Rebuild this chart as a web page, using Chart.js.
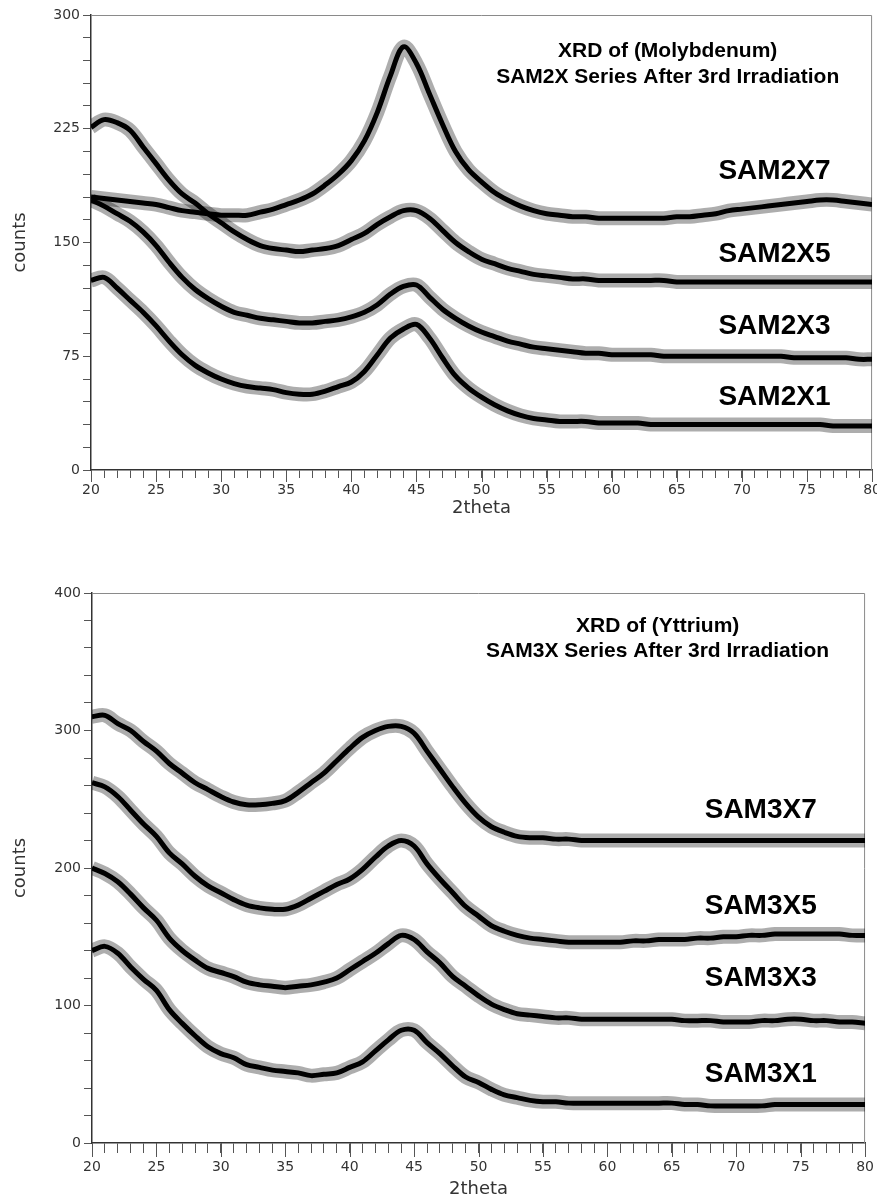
<!DOCTYPE html>
<html>
<head>
<meta charset="utf-8">
<script src="https://cdn.jsdelivr.net/npm/chart.js@4.4.1/dist/chart.umd.min.js"></script>
<style>
  html, body { margin: 0; padding: 0; background: #fff; overflow: hidden; }
  .box { position: absolute; left: 0; }
  #topBox { top: 0; width: 885px; height: 525px; }
  #bottomBox { top: 560px; width: 880px; height: 640px; }
</style>
</head>
<body>
<div class="box" id="topBox"><canvas id="moChart"></canvas></div>
<div class="box" id="bottomBox"><canvas id="yChart"></canvas></div>
<script>
// 2theta positions (degrees), one reading per degree
const twoTheta = [20,21,22,23,24,25,26,27,28,29,30,31,32,33,34,35,36,37,38,39,40,
  41,42,43,44,45,46,47,48,49,50,51,52,53,54,55,56,57,58,59,60,
  61,62,63,64,65,66,67,68,69,70,71,72,73,74,75,76,77,78,79,80];

// Molybdenum, SAM2X series (counts)
const sam2x7 = [180,179,178,177,176,175,173,171,170,169,168,168,168,170,172,175,178,182,188,195,204,
  217,236,260,279,268,248,228,210,198,190,183,178,174,171,169,168,167,167,166,166,
  166,166,166,166,167,167,168,169,171,172,173,174,175,176,177,178,178,177,176,175];
const sam2x5 = [226,231,229,224,213,202,191,182,176,169,163,157,152,148,146,145,144,145,146,148,152,
  156,162,167,171,171,166,158,150,144,139,136,133,131,129,128,127,126,126,125,125,
  125,125,125,125,124,124,124,124,124,124,124,124,124,124,124,124,124,124,124,124];
const sam2x3 = [178,174,169,164,157,148,137,127,119,113,108,104,102,100,99,98,97,97,98,99,101,
  104,109,116,121,122,114,106,100,95,91,88,85,83,81,80,79,78,77,77,76,
  76,76,76,75,75,75,75,75,75,75,75,75,75,74,74,74,74,74,73,73];
const sam2x1 = [125,127,120,112,104,95,85,76,69,64,60,57,55,54,53,51,50,50,52,55,58,
  65,76,87,93,96,87,74,62,54,48,43,39,36,34,33,32,32,32,31,31,
  31,31,30,30,30,30,30,30,30,30,30,30,30,30,30,30,29,29,29,29];

// Yttrium, SAM3X series (counts)
const sam3x7 = [310,311,305,300,292,285,276,269,262,257,252,248,246,246,247,249,255,262,269,278,287,
  295,300,303,303,298,285,272,259,247,237,230,226,223,222,222,221,221,220,220,220,
  220,220,220,220,220,220,220,220,220,220,220,220,220,220,220,220,220,220,220,220];
const sam3x5 = [262,259,252,242,232,223,211,203,194,187,182,177,173,171,170,170,173,178,183,188,192,
  199,208,216,220,216,203,192,182,172,165,158,154,151,149,148,147,146,146,146,146,
  146,147,147,148,148,148,149,149,150,150,151,151,152,152,152,152,152,152,151,151];
const sam3x3 = [200,196,190,181,171,162,149,140,133,127,124,121,117,115,114,113,114,115,117,120,126,
  132,138,145,151,148,139,131,121,114,107,101,97,94,93,92,91,91,90,90,90,
  90,90,90,90,90,89,89,89,88,88,88,89,89,90,90,89,89,88,88,87];
const sam3x1 = [140,143,138,128,119,111,97,87,78,70,65,62,57,55,53,52,51,49,50,51,55,
  59,67,75,82,82,73,65,56,48,44,39,35,33,31,30,30,29,29,29,29,
  29,29,29,29,29,28,28,27,27,27,27,27,28,28,28,28,28,28,28,28];

const tickFont = { family: "'DejaVu Sans', sans-serif", size: 14 };
const titleFont = { family: "'DejaVu Sans', sans-serif", size: 18 };
const boldHead = "bold 21px 'Liberation Sans', Arial, sans-serif";
const boldTag = "bold 28px 'Liberation Sans', Arial, sans-serif";

function toPoints(values) {
  return twoTheta.map((t, i) => ({ x: t, y: values[i] }));
}

// each pattern is drawn as a grey noise band with a black core
function seriesSets(list) {
  const sets = [];
  list.forEach(values => {
    sets.push({ data: toPoints(values), borderColor: 'rgba(0,0,0,0.32)', borderWidth: 14,
      pointRadius: 0, tension: 0.35 });
    sets.push({ data: toPoints(values), borderColor: '#000', borderWidth: 5,
      pointRadius: 0, tension: 0.35 });
  });
  return sets;
}

// grey frame on top/right, and longer ticks at every labelled 2theta
const framePlugin = {
  id: 'frame',
  beforeDatasetsDraw(chart, args, opts) {
    const { ctx, chartArea: a, scales: { x } } = chart;
    ctx.save();
    ctx.strokeStyle = '#8a8a8a';
    ctx.lineWidth = 1;
    ctx.beginPath();
    ctx.moveTo(a.left, a.top + 0.5);
    ctx.lineTo(a.right - 0.5, a.top + 0.5);
    ctx.lineTo(a.right - 0.5, a.bottom);
    ctx.stroke();
    ctx.strokeStyle = '#555';
    ctx.beginPath();
    for (let t = 20; t <= 80; t += 5) {
      const px = Math.round(x.getPixelForValue(t)) + 0.5;
      ctx.moveTo(px, a.bottom);
      ctx.lineTo(px, a.bottom + opts.majorLen);
    }
    ctx.stroke();
    ctx.restore();
  }
};

const textPlugin = {
  id: 'notes',
  afterDatasetsDraw(chart, args, opts) {
    const { ctx, scales: { x, y } } = chart;
    ctx.save();
    ctx.fillStyle = '#000';
    ctx.textAlign = 'center';
    ctx.textBaseline = 'middle';
    (opts.items || []).forEach(it => {
      ctx.font = it.font;
      ctx.fillText(it.text, x.getPixelForValue(it.x), y.getPixelForValue(it.y));
    });
    ctx.restore();
  }
};

function makeChart(id, cfg) {
  return new Chart(document.getElementById(id), {
    type: 'line',
    data: { datasets: seriesSets(cfg.series) },
    options: {
      responsive: true,
      maintainAspectRatio: false,
      animation: false,
      layout: { padding: cfg.padding },
      plugins: {
        legend: { display: false },
        tooltip: { enabled: false },
        notes: { items: cfg.notes },
        frame: { majorLen: cfg.tickLen + 4 }
      },
      scales: {
        x: {
          type: 'linear', min: 20, max: 80,
          afterFit: s => { s.height = cfg.xHeight; },
          border: { color: '#333', width: 1.5 },
          grid: { drawOnChartArea: false, tickLength: cfg.tickLen, tickColor: '#555' },
          ticks: { stepSize: 1, autoSkip: false, maxRotation: 0, padding: cfg.xPad,
            color: '#333', font: tickFont,
            callback: v => (v % 5 === 0 ? v : '') },
          title: { display: true, text: '2theta', color: '#333', font: titleFont,
            padding: { top: 0, bottom: cfg.xTitlePad } }
        },
        y: {
          min: 0, max: cfg.yMax,
          afterFit: s => { s.width = cfg.yWidth; },
          border: { color: '#333', width: 1.5 },
          grid: { drawOnChartArea: false, tickLength: 8, tickColor: '#555' },
          ticks: { stepSize: cfg.minor, autoSkip: false, padding: 3, color: '#333', font: tickFont,
            callback: v => (v % cfg.major === 0 ? v : '') },
          title: { display: true, text: 'counts', color: '#333', font: titleFont,
            padding: { top: 10, bottom: 0 } }
        }
      }
    },
    plugins: [framePlugin, textPlugin]
  });
}

makeChart('moChart', {
  series: [sam2x7, sam2x5, sam2x3, sam2x1],
  yMax: 300, minor: 15, major: 75,
  padding: { top: 15, right: -1, left: 0, bottom: 0 },
  yWidth: 91, xHeight: 55, tickLen: 8, xPad: 4, xTitlePad: 6,
  notes: [
    { text: 'XRD of (Molybdenum)', x: 64.3, y: 276, font: boldHead },
    { text: 'SAM2X Series After 3rd Irradiation', x: 64.3, y: 259, font: boldHead },
    { text: 'SAM2X7', x: 72.5, y: 197, font: boldTag },
    { text: 'SAM2X5', x: 72.5, y: 142, font: boldTag },
    { text: 'SAM2X3', x: 72.5, y: 95, font: boldTag },
    { text: 'SAM2X1', x: 72.5, y: 48, font: boldTag }
  ]
});

makeChart('yChart', {
  series: [sam3x7, sam3x5, sam3x3, sam3x1],
  yMax: 400, minor: 20, major: 100,
  padding: { top: 33, right: 4, left: 0, bottom: 0 },
  yWidth: 92, xHeight: 57, tickLen: 10, xPad: 6, xTitlePad: 0,
  notes: [
    { text: 'XRD of (Yttrium)', x: 63.9, y: 376, font: boldHead },
    { text: 'SAM3X Series After 3rd Irradiation', x: 63.9, y: 358, font: boldHead },
    { text: 'SAM3X7', x: 71.9, y: 242, font: boldTag },
    { text: 'SAM3X5', x: 71.9, y: 172, font: boldTag },
    { text: 'SAM3X3', x: 71.9, y: 120, font: boldTag },
    { text: 'SAM3X1', x: 71.9, y: 50, font: boldTag }
  ]
});
</script>
</body>
</html>
